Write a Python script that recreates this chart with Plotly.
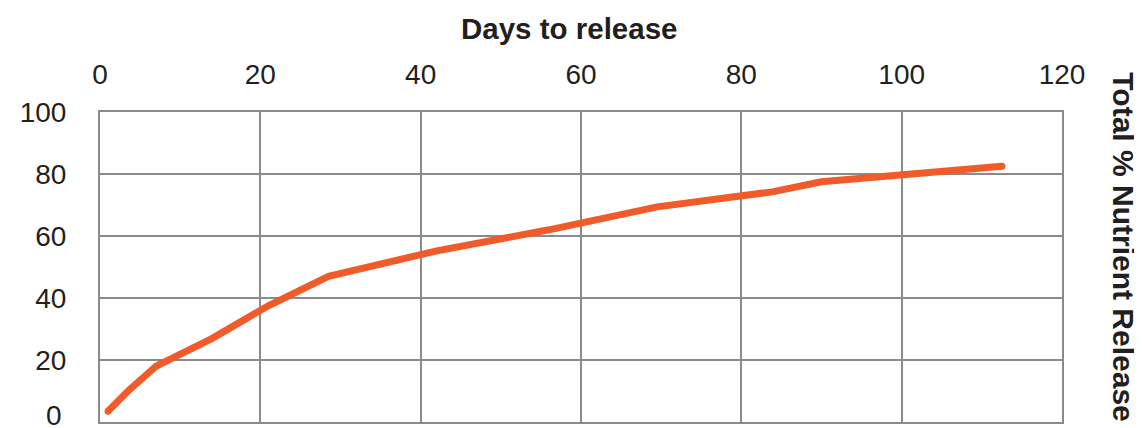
import plotly.graph_objects as go

days = [1, 3.5, 7, 14, 21, 28.5, 42, 56, 69.5, 84, 90, 100, 112.5]
release = [3.5, 10, 18, 27, 37.5, 47, 55.2, 62, 69.4, 74.3, 77.5, 79.6, 82.5]

x_ticks = [0, 20, 40, 60, 80, 100, 120]
y_ticks = [20, 40, 60, 80, 100]
x_title = "Days to release"
y_title = "Total % Nutrient Release"

LINE = "#F15A29"
GRID = "#8B8B8E"
TXT = "#231F20"
FONT = "Liberation Sans, Arial, Helvetica, sans-serif"
FS = 28

fig = go.Figure()
fig.add_trace(go.Scatter(x=days, y=release, mode="lines",
                         line=dict(color=LINE, width=7), hoverinfo="skip"))
fig.add_trace(go.Scatter(x=[days[0], days[-1]], y=[release[0], release[-1]], mode="markers",
                         marker=dict(color=LINE, size=7, line=dict(width=0)), hoverinfo="skip"))

fig.update_layout(
    width=1142, height=428,
    margin=dict(l=88, r=88, t=104, b=12),
    paper_bgcolor="white", plot_bgcolor="white",
    showlegend=False,
    font=dict(family=FONT, size=FS, color=TXT),
    xaxis=dict(range=[0, 120], side="top", tickvals=x_ticks,
               showgrid=True, gridcolor=GRID, gridwidth=2,
               showline=True, linecolor=GRID, linewidth=2, mirror=True,
               zeroline=False, ticks="", ticklabelstandoff=15,
               tickfont=dict(family=FONT, size=FS, color=TXT)),
    yaxis=dict(range=[0, 100], tickvals=y_ticks,
               showgrid=True, gridcolor=GRID, gridwidth=2,
               showline=True, linecolor=GRID, linewidth=2, mirror=True,
               zeroline=False, ticks="", ticklabelstandoff=26,
               tickfont=dict(family=FONT, size=FS, color=TXT)),
    annotations=[
        dict(text="<b>" + x_title + "</b>", xref="paper", yref="paper",
             x=0.488, y=1 + 84 / 312, xanchor="center", yanchor="middle",
             showarrow=False, font=dict(family=FONT, size=29.5, color=TXT)),
        dict(text="<b>" + y_title + "</b>", xref="paper", yref="paper",
             x=1.0645, y=1 + (112 - 70) / 312, xanchor="center", yanchor="top",
             textangle=90, showarrow=False, font=dict(family=FONT, size=30, color=TXT)),
        dict(text="0", xref="paper", yref="y", x=0, y=0, xanchor="right", yanchor="middle",
             xshift=-36, yshift=7, showarrow=False,
             font=dict(family=FONT, size=FS, color=TXT)),
    ],
)

fig.write_html("out.html")
